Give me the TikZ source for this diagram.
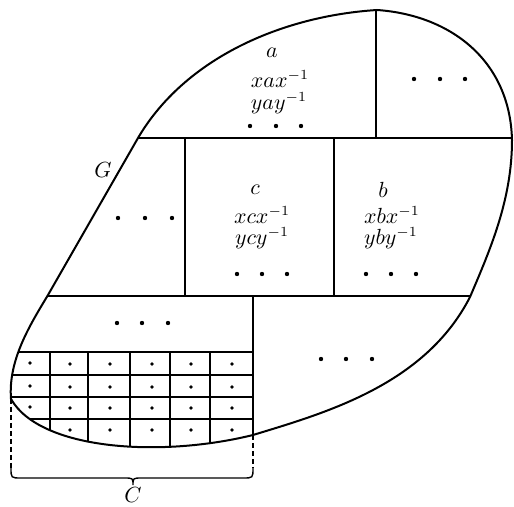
\documentclass[tikz,border=0pt]{standalone}
\begin{document}
\begin{tikzpicture}[x=0.5pt,y=-0.5pt,
  outline/.style={line width=1pt, line join=round},
  inner/.style={line width=0.7pt},
  lbl/.style={font=\fontsize{10.5}{12}\selectfont, inner sep=0pt},
  bigdot/.style={fill=black},
  dashline/.style={line width=0.7pt, dash pattern=on 2.5pt off 1.5pt},
  bracestyle/.style={line width=0.7pt}]
\useasboundingbox (0,0) rectangle (514,507);
\def\blob{(138,138) .. controls (185,58) and (282,16) .. (377,10)
  .. controls (450,15) and (510,60) .. (512,140)
  .. controls (512,200) and (490,250) .. (470,297)
  .. controls (425,385) and (325,413) .. (253,435)
  .. controls (160,458) and (40,450) .. (11,399)
  .. controls (8,360) and (30,325) .. (48,295) -- cycle}
% internal partition, clipped to the outline
\begin{scope}
\clip \blob;
\draw[inner] (0,138) -- (514,138);
\draw[inner] (376,0) -- (376,138);
\draw[inner] (185,138) -- (185,296);
\draw[inner] (334,138) -- (334,296);
\draw[inner] (0,296) -- (514,296);
\draw[inner] (253,296) -- (253,507);
\draw[inner] (0,352) -- (253,352);
\draw[inner] (0,375) -- (253,375);
\draw[inner] (0,397) -- (253,397);
\draw[inner] (0,419) -- (253,419);
\foreach \cx in {50,88,130,170,210} \draw[inner] (\cx,352) -- (\cx,507);
\end{scope}
% outline G
\draw[outline] \blob;
% texts
\node[lbl] (a1) at (272,53) {$a$};
\node[lbl] (a2) at (280,79) {$xax^{-1}$};
\node[lbl] (a3) at (279,103) {$yay^{-1}$};
\node[lbl] (c1) at (255,190) {$c$};
\node[lbl] (c2) at (262,215) {$xcx^{-1}$};
\node[lbl] (c3) at (262,238) {$ycy^{-1}$};
\node[lbl] (b1) at (383,190) {$b$};
\node[lbl] (b2) at (392,215) {$xbx^{-1}$};
\node[lbl] (b3) at (391,238) {$yby^{-1}$};
\node[lbl] (G) at (103,170) {$G$};
\node[lbl] (C) at (133,495) {$C$};
% ellipsis dots
\foreach \px/\py in {250/126,276/126,301/126, 414/79,440/79,465/79,
  118/218,145/218,172/218, 237/274,262/274,287/274, 366/274,391/274,416/274,
  117/323,142/323,168/323, 321/359,346/359,372/359}
  \fill[bigdot] (\px,\py) circle (1.1pt);
% grid dots
\foreach \py in {363,386,407} \fill[bigdot] (30,\py) circle (0.9pt);
\foreach \px in {70,110,152,191,232}
  \foreach \py in {364,387,408,430} \fill[bigdot] (\px,\py) circle (0.9pt);
% brace for C
\coordinate (bl) at (11,399);
\coordinate (br) at (253,435);
\coordinate (blc) at (11,468);
\coordinate (brc) at (253,468);
\draw[dashline] (bl) -- (blc);
\draw[dashline] (br) -- (brc);
\draw[bracestyle] (blc) .. controls (11,478) .. (21,478) -- (124,478)
  .. controls (133,478) .. (133,485) .. controls (133,478) .. (142,478)
  -- (243,478) .. controls (253,478) .. (brc);
\end{tikzpicture}
\end{document}
